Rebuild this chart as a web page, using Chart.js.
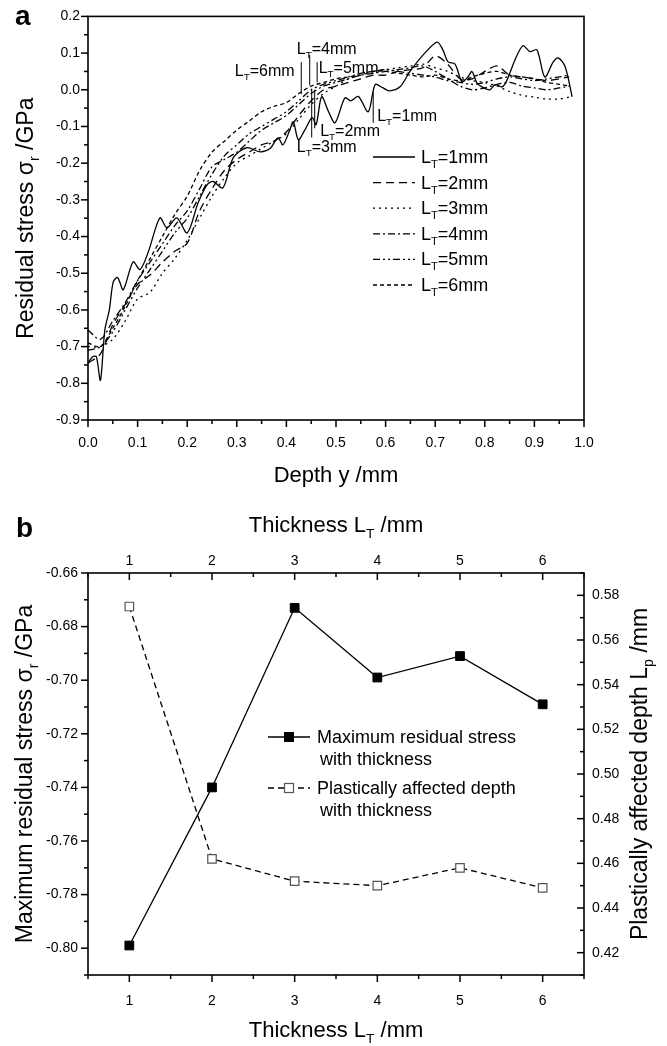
<!DOCTYPE html>
<html>
<head>
<meta charset="utf-8">
<script src="https://cdn.jsdelivr.net/npm/chart.js@4.4.0/dist/chart.umd.min.js"></script>
<style>
html, body { margin: 0; padding: 0; background: #fff; }
#ca { position: absolute; left: 0; top: 0; }
#cb { position: absolute; left: 0; top: 505px; }
</style>
</head>
<body>
<canvas id="ca" width="667" height="505"></canvas>
<canvas id="cb" width="667" height="541"></canvas>
<script>
// ---- panel a: residual stress vs depth ----
var depth1 = [0.000, 0.010, 0.017, 0.025, 0.034, 0.043, 0.051, 0.060, 0.071, 0.091, 0.105, 0.122, 0.145, 0.159, 0.179, 0.200, 0.222, 0.240, 0.252, 0.272, 0.293, 0.320, 0.347, 0.367, 0.383, 0.393, 0.407, 0.414, 0.424, 0.437, 0.452, 0.460, 0.471, 0.485, 0.498, 0.518, 0.530, 0.545, 0.565, 0.579, 0.595, 0.607, 0.629, 0.649, 0.679, 0.704, 0.715, 0.726, 0.740, 0.754, 0.766, 0.774, 0.784, 0.794, 0.810, 0.821, 0.835, 0.845, 0.861, 0.877, 0.891, 0.905, 0.921, 0.938, 0.948, 0.962, 0.976];
var stress1 = [-0.745, -0.727, -0.728, -0.792, -0.654, -0.600, -0.523, -0.512, -0.545, -0.469, -0.490, -0.440, -0.349, -0.376, -0.349, -0.390, -0.308, -0.259, -0.250, -0.267, -0.185, -0.158, -0.169, -0.160, -0.131, -0.150, -0.109, -0.087, -0.136, -0.110, -0.076, -0.095, -0.019, -0.060, -0.090, -0.022, -0.030, -0.018, -0.060, 0.014, 0.005, -0.003, 0.008, 0.050, 0.100, 0.130, 0.110, 0.076, 0.070, 0.022, 0.035, 0.050, 0.019, 0.008, 0.000, 0.014, 0.008, 0.027, 0.082, 0.120, 0.104, 0.109, 0.035, 0.076, 0.087, 0.063, -0.019];

var depth = [0.000, 0.025, 0.050, 0.075, 0.100, 0.125, 0.150, 0.175, 0.200, 0.225, 0.250, 0.275, 0.300, 0.325, 0.350, 0.375, 0.400, 0.425, 0.450, 0.475, 0.500, 0.525, 0.550, 0.575, 0.600, 0.625, 0.650, 0.675, 0.700, 0.725, 0.750, 0.775, 0.800, 0.825, 0.850, 0.875, 0.900, 0.925, 0.950, 0.970];
var stress2 = [-0.745, -0.720, -0.640, -0.585, -0.530, -0.505, -0.470, -0.440, -0.418, -0.330, -0.270, -0.220, -0.190, -0.170, -0.150, -0.140, -0.115, -0.070, -0.030, 0.000, 0.010, 0.020, 0.030, 0.040, 0.040, 0.050, 0.055, 0.060, 0.092, 0.070, 0.030, 0.030, 0.050, 0.065, 0.040, 0.035, 0.030, 0.025, 0.030, 0.035];
var stress3 = [-0.700, -0.700, -0.680, -0.630, -0.570, -0.552, -0.500, -0.460, -0.410, -0.350, -0.290, -0.240, -0.200, -0.180, -0.160, -0.140, -0.120, -0.080, -0.040, -0.010, 0.010, 0.030, 0.045, 0.050, 0.055, 0.060, 0.065, 0.070, 0.060, 0.050, 0.035, 0.025, 0.020, 0.010, -0.005, -0.015, -0.020, -0.025, -0.025, -0.020];
var stress4 = [-0.655, -0.680, -0.630, -0.580, -0.520, -0.470, -0.420, -0.370, -0.330, -0.270, -0.210, -0.190, -0.170, -0.140, -0.110, -0.090, -0.070, -0.040, -0.010, 0.010, 0.020, 0.030, 0.040, 0.045, 0.050, 0.055, 0.060, 0.065, 0.050, 0.030, 0.010, 0.000, 0.005, 0.015, 0.020, 0.010, 0.005, 0.000, 0.005, 0.010];
var stress5 = [-0.710, -0.700, -0.660, -0.600, -0.540, -0.490, -0.440, -0.390, -0.350, -0.290, -0.230, -0.180, -0.150, -0.120, -0.100, -0.080, -0.060, -0.030, 0.000, 0.015, 0.025, 0.035, 0.045, 0.050, 0.055, 0.050, 0.045, 0.040, 0.035, 0.025, 0.020, 0.015, 0.020, 0.030, 0.035, 0.030, 0.025, 0.030, 0.035, 0.040];
var stress6 = [-0.690, -0.700, -0.650, -0.590, -0.520, -0.460, -0.400, -0.340, -0.290, -0.220, -0.170, -0.140, -0.110, -0.085, -0.060, -0.045, -0.035, -0.010, 0.010, 0.020, 0.030, 0.035, 0.040, 0.050, 0.050, 0.045, 0.040, 0.035, 0.040, 0.030, 0.025, 0.035, 0.045, 0.050, 0.040, 0.035, 0.030, 0.020, 0.015, 0.010];

var thickNames = ["1mm", "2mm", "3mm", "4mm", "5mm", "6mm"];
var dashes = [[], [8, 5], [2, 4], [7, 3, 2, 3], [7, 3, 2, 3, 2, 3], [4, 3]];

// leader lines and labels (same order as thickNames)
var markDepth = [0.575, 0.457, 0.451, 0.447, 0.462, 0.430];
var markTop = [-0.005, 0.000, 0.000, 0.095, 0.075, 0.075];
var markBottom = [-0.090, -0.105, -0.130, 0.012, 0.020, -0.012];
var labelDepth = [0.583, 0.468, 0.421, 0.421, 0.465, 0.296];
var labelStress = [-0.068, -0.109, -0.153, 0.114, 0.063, 0.054];

// ---- panel b: effect of thickness ----
var thickness = [1, 2, 3, 4, 5, 6];
var maxStress = [-0.799, -0.740, -0.673, -0.699, -0.691, -0.709];
var plasticDepth = [0.575, 0.462, 0.452, 0.450, 0.458, 0.449];
var stressTicks = [-0.80, -0.78, -0.76, -0.74, -0.72, -0.70, -0.68, -0.66];
var depthTicks = [0.42, 0.44, 0.46, 0.48, 0.50, 0.52, 0.54, 0.56, 0.58];

var FONT = '"Liberation Sans", Arial, sans-serif';

function richWidth(ctx, parts, size) {
    var w = 0;
    parts.forEach(function (p) {
        ctx.font = (p[1] ? size * 0.62 : size) + 'px ' + FONT;
        w += ctx.measureText(p[0]).width;
    });
    return w;
}

// parts: [[text, isSub], ...]; (x, y) is the baseline anchor
function drawRich(ctx, parts, x, y, size, align, rot) {
    ctx.save();
    ctx.translate(x, y);
    if (rot) ctx.rotate(rot);
    var w = richWidth(ctx, parts, size);
    var cx = align == 'center' ? -w / 2 : (align == 'right' ? -w : 0);
    ctx.textAlign = 'left';
    ctx.textBaseline = 'alphabetic';
    ctx.fillStyle = '#000';
    parts.forEach(function (p) {
        ctx.font = (p[1] ? size * 0.62 : size) + 'px ' + FONT;
        ctx.fillText(p[0], cx, p[1] ? size * 0.28 : 0);
        cx += ctx.measureText(p[0]).width;
    });
    ctx.restore();
}

function ltParts(name) {
    return [["L", 0], ["T", 1], ["=" + name, 0]];
}

// major ticks from the scale, minor ticks half way
function tickValues(scale) {
    var major = scale.ticks.map(function (t) { return t.value; });
    var minor = [];
    var step = major[1] - major[0];
    for (var i = -1; i < major.length; i++) {
        var v = (i < 0 ? major[0] - step : major[i]) + step / 2;
        if (v >= scale.min - 1e-9 && v <= scale.max + 1e-9) minor.push(v);
    }
    return { major: major, minor: minor };
}

function drawTicks(ctx, scale, side, dir) {
    var tv = tickValues(scale);
    var a = scale.chart.chartArea;
    ctx.save();
    ctx.strokeStyle = '#000';
    ctx.lineWidth = 1.5;
    [[tv.major, 7], [tv.minor, 4]].forEach(function (set) {
        set[0].forEach(function (v) {
            var p = scale.getPixelForValue(v);
            var len = set[1] * dir;
            ctx.beginPath();
            if (side == 'left') { ctx.moveTo(a.left, p); ctx.lineTo(a.left - len, p); }
            if (side == 'right') { ctx.moveTo(a.right, p); ctx.lineTo(a.right + len, p); }
            if (side == 'bottom') { ctx.moveTo(p, a.bottom); ctx.lineTo(p, a.bottom + len); }
            if (side == 'top') { ctx.moveTo(p, a.top); ctx.lineTo(p, a.top - len); }
            ctx.stroke();
        });
    });
    ctx.restore();
}

function drawFrame(ctx, a) {
    ctx.save();
    ctx.strokeStyle = '#000';
    ctx.lineWidth = 1.6;
    ctx.strokeRect(a.left, a.top, a.right - a.left, a.bottom - a.top);
    ctx.restore();
}

function tickFont() {
    return { family: FONT, size: 14 };
}

function fixedTicks(values) {
    return function (s) {
        s.ticks = values.map(function (v) { return { value: v }; });
    };
}

// ---------------- chart a ----------------
var seriesA = [stress1, stress2, stress3, stress4, stress5, stress6];
var datasetsA = seriesA.map(function (s, i) {
    var xs = i == 0 ? depth1 : depth;
    return {
        label: "LT=" + thickNames[i],
        data: s.map(function (v, k) { return { x: xs[k], y: v }; }),
        showLine: true,
        borderColor: '#000',
        borderWidth: 1.3,
        borderDash: dashes[i],
        pointRadius: 0,
        tension: 0.3
    };
});

var plotA = {
    id: 'plotA',
    afterDraw: function (chart) {
        var ctx = chart.ctx, a = chart.chartArea;
        var xs = chart.scales.x, ys = chart.scales.y;
        drawFrame(ctx, a);
        drawTicks(ctx, ys, 'left', 1);
        drawTicks(ctx, xs, 'bottom', 1);

        // leader lines and labels
        ctx.save();
        ctx.strokeStyle = '#000';
        ctx.lineWidth = 1;
        for (var i = 0; i < thickNames.length; i++) {
            var px = xs.getPixelForValue(markDepth[i]);
            ctx.beginPath();
            ctx.moveTo(px, ys.getPixelForValue(markTop[i]));
            ctx.lineTo(px, ys.getPixelForValue(markBottom[i]));
            ctx.stroke();
            drawRich(ctx, ltParts(thickNames[i]), xs.getPixelForValue(labelDepth[i]), ys.getPixelForValue(labelStress[i]) + 6, 16, 'left');
        }
        ctx.restore();

        // legend
        chart.data.datasets.forEach(function (ds, i) {
            var y = 157 + i * 25.6;
            ctx.save();
            ctx.strokeStyle = '#000';
            ctx.lineWidth = 1.3;
            ctx.setLineDash(ds.borderDash);
            ctx.beginPath();
            ctx.moveTo(373, y);
            ctx.lineTo(415, y);
            ctx.stroke();
            ctx.restore();
            drawRich(ctx, ltParts(thickNames[i]), 421, y + 6, 18, 'left');
        });

        // axis titles
        drawRich(ctx, [["Depth y /mm", 0]], (a.left + a.right) / 2, 482, 22, 'center');
        drawRich(ctx, [["Residual stress \u03c3", 0], ["r", 1], [" /GPa", 0]], 33, (a.top + a.bottom) / 2, 23, 'center', -Math.PI / 2);

        ctx.save();
        ctx.font = 'bold 28px ' + FONT;
        ctx.fillStyle = '#000';
        ctx.fillText('a', 15, 25);
        ctx.restore();
    }
};

new Chart(document.getElementById('ca'), {
    type: 'scatter',
    data: { datasets: datasetsA },
    options: {
        responsive: false,
        animation: false,
        layout: { padding: { left: 0, right: 83, top: 16, bottom: 0 } },
        plugins: { legend: { display: false }, tooltip: { enabled: false } },
        scales: {
            x: {
                type: 'linear', min: 0, max: 1,
                grid: { display: false, drawTicks: false },
                border: { display: false },
                ticks: {
                    stepSize: 0.1, padding: 15, color: '#000', font: tickFont(), maxRotation: 0, autoSkip: false,
                    callback: function (v) { return (Math.abs(v) < 1e-9 ? 0 : v).toFixed(1); }
                },
                afterFit: function (s) { s.height = 85; }
            },
            y: {
                type: 'linear', min: -0.9, max: 0.2,
                grid: { display: false, drawTicks: false },
                border: { display: false },
                ticks: {
                    stepSize: 0.1, padding: 8, color: '#000', font: tickFont(), autoSkip: false,
                    callback: function (v) { return (Math.abs(v) < 1e-9 ? 0 : v).toFixed(1); }
                },
                afterFit: function (s) { s.width = 88; }
            }
        }
    },
    plugins: [plotA]
});

// ---------------- chart b ----------------
var plotB = {
    id: 'plotB',
    afterDraw: function (chart) {
        var ctx = chart.ctx, a = chart.chartArea;
        drawFrame(ctx, a);
        drawTicks(ctx, chart.scales.y, 'left', 1);
        drawTicks(ctx, chart.scales.x, 'bottom', 1);
        drawTicks(ctx, chart.scales.x2, 'top', -1);
        drawTicks(ctx, chart.scales.y2, 'right', -1);

        // legend
        var rows = [
            { ds: chart.data.datasets[0], y: 232, lines: ["Maximum residual stress", "with thickness"] },
            { ds: chart.data.datasets[1], y: 283, lines: ["Plastically affected depth", "with thickness"] }
        ];
        rows.forEach(function (r) {
            ctx.save();
            ctx.strokeStyle = '#000';
            ctx.lineWidth = 1.3;
            ctx.setLineDash(r.ds.borderDash || []);
            ctx.beginPath();
            ctx.moveTo(268, r.y);
            ctx.lineTo(310, r.y);
            ctx.stroke();
            ctx.setLineDash([]);
            ctx.fillStyle = r.ds.pointBackgroundColor;
            ctx.strokeStyle = r.ds.pointBorderColor;
            ctx.lineWidth = r.ds.pointBorderWidth;
            ctx.fillRect(284.5, r.y - 4.5, 9, 9);
            ctx.strokeRect(284.5, r.y - 4.5, 9, 9);
            ctx.restore();
            drawRich(ctx, [[r.lines[0], 0]], 317, r.y + 6, 18, 'left');
            drawRich(ctx, [[r.lines[1], 0]], 320, r.y + 28, 18, 'left');
        });

        var cx = (a.left + a.right) / 2, cy = (a.top + a.bottom) / 2;
        drawRich(ctx, [["Thickness L", 0], ["T", 1], [" /mm", 0]], cx, 27, 22, 'center');
        drawRich(ctx, [["Thickness L", 0], ["T", 1], [" /mm", 0]], cx, 532, 22, 'center');
        drawRich(ctx, [["Maximum residual stress \u03c3", 0], ["r", 1], [" /GPa", 0]], 32, cy, 23, 'center', -Math.PI / 2);
        drawRich(ctx, [["Plastically affected depth L", 0], ["p", 1], [" /mm", 0]], 647, cy, 23, 'center', -Math.PI / 2);

        ctx.save();
        ctx.font = 'bold 28px ' + FONT;
        ctx.fillStyle = '#000';
        ctx.fillText('b', 16, 32);
        ctx.restore();
    }
};

var thickTicks = {
    color: '#000', font: tickFont(), maxRotation: 0, autoSkip: false
};

new Chart(document.getElementById('cb'), {
    type: 'scatter',
    data: {
        datasets: [
            {
                label: 'Maximum residual stress with thickness',
                data: thickness.map(function (t, i) { return { x: t, y: maxStress[i] }; }),
                yAxisID: 'y',
                showLine: true,
                borderColor: '#000',
                borderWidth: 1.3,
                pointStyle: 'rect',
                pointRadius: 6.2,
                pointBackgroundColor: '#000',
                pointBorderColor: '#000',
                pointBorderWidth: 1,
                tension: 0
            },
            {
                label: 'Plastically affected depth with thickness',
                data: thickness.map(function (t, i) { return { x: t, y: plasticDepth[i] }; }),
                yAxisID: 'y2',
                showLine: true,
                borderColor: '#000',
                borderWidth: 1.3,
                borderDash: [6, 4],
                pointStyle: 'rect',
                pointRadius: 6,
                pointBackgroundColor: '#fff',
                pointBorderColor: '#555',
                pointBorderWidth: 1.2,
                tension: 0
            }
        ]
    },
    options: {
        responsive: false,
        animation: false,
        layout: { padding: { left: 0, right: 0, top: 0, bottom: 0 } },
        plugins: { legend: { display: false }, tooltip: { enabled: false } },
        scales: {
            x: {
                type: 'linear', position: 'bottom', min: 0.5, max: 6.5,
                grid: { display: false, drawTicks: false },
                border: { display: false },
                ticks: Object.assign({ padding: 18 }, thickTicks),
                afterBuildTicks: fixedTicks(thickness),
                afterFit: function (s) { s.height = 71; }
            },
            x2: {
                type: 'linear', position: 'top', min: 0.5, max: 6.5,
                grid: { display: false, drawTicks: false },
                border: { display: false },
                ticks: Object.assign({ padding: 3 }, thickTicks),
                afterBuildTicks: fixedTicks(thickness),
                afterFit: function (s) { s.height = 68; }
            },
            y: {
                type: 'linear', position: 'left', min: -0.81, max: -0.66,
                grid: { display: false, drawTicks: false },
                border: { display: false },
                afterBuildTicks: fixedTicks(stressTicks),
                ticks: {
                    padding: 10, color: '#000', font: tickFont(), autoSkip: false,
                    callback: function (v) { return v.toFixed(2); }
                },
                afterFit: function (s) { s.width = 88; }
            },
            y2: {
                type: 'linear', position: 'right', min: 0.41, max: 0.59,
                grid: { display: false, drawTicks: false },
                border: { display: false },
                afterBuildTicks: fixedTicks(depthTicks),
                ticks: {
                    padding: 8, color: '#000', font: tickFont(), autoSkip: false,
                    callback: function (v) { return v.toFixed(2); }
                },
                afterFit: function (s) { s.width = 83; }
            }
        }
    },
    plugins: [plotB]
});
</script>
</body>
</html>
